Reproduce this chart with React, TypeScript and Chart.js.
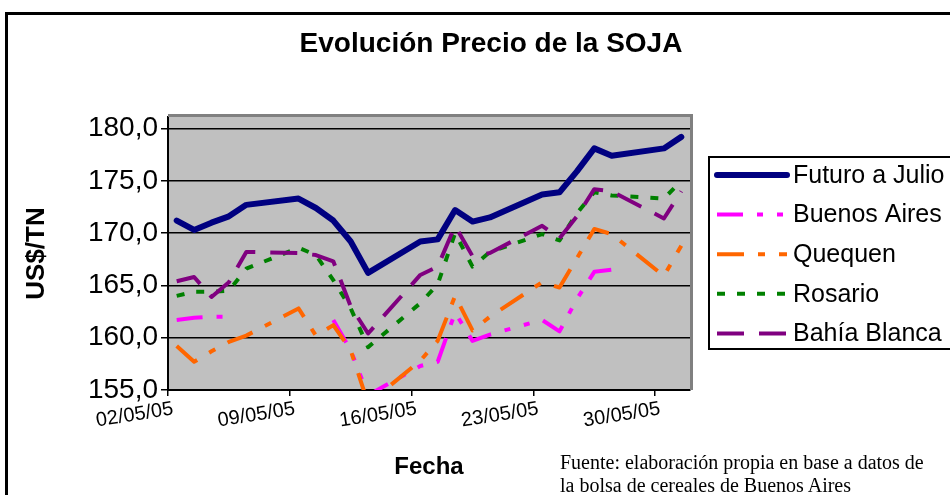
import React, { useEffect, useRef } from 'react';
import { Chart, registerables } from 'chart.js';

Chart.register(...registerables);

// ---------- data ----------
const fechas = [
  '02/05/05', '03/05/05', '04/05/05', '05/05/05', '06/05/05',
  '09/05/05', '10/05/05', '11/05/05', '12/05/05', '13/05/05',
  '16/05/05', '17/05/05', '18/05/05', '19/05/05', '20/05/05',
  '23/05/05', '24/05/05', '25/05/05', '26/05/05', '27/05/05',
  '30/05/05', '31/05/05',
];
const futuroJulio = [171.2, 170.3, 171.0, 171.6, 172.7, 173.3, 172.4, 171.2, 169.2, 166.2, 169.2, 169.4, 172.2, 171.1, 171.5, 173.7, 173.9, 175.9, 178.1, 177.4, 178.1, 179.2];
const buenosAires: (number | null)[] = [161.7, 161.9, 162.0, 162.0, null, null, null, 161.7, 158.8, 154.5, 157.3, 157.7, 162.4, 159.7, 160.3, 161.7, 160.6, 163.7, 166.3, 166.5, null, null];
const quequen = [159.2, 157.7, 158.7, 159.6, 160.2, 162.8, 160.2, 161.2, 158.8, 153.7, 157.8, 159.7, 164.0, 160.7, 162.0, 165.3, 164.8, 167.6, 170.4, 169.9, 165.9, 168.8];
const rosario = [164.0, 164.4, 164.4, 164.5, 166.6, 168.6, 167.9, 165.5, 162.8, 159.1, 163.3, 165.1, 170.0, 166.8, 168.2, 169.9, 169.3, 171.9, 173.9, 173.6, 173.3, 175.0];
const bahiaBlanca = [165.4, 165.8, 163.9, 165.3, 168.2, 168.1, 167.9, 167.3, 163.0, 160.4, 166.0, 166.8, 170.7, 167.8, 168.1, 170.7, 169.5, 171.6, 174.2, 174.0, 171.4, 174.0];

const xTickLabels = ['02/05/05', '09/05/05', '16/05/05', '23/05/05', '30/05/05'];
const xEnd = '01/06/05';
const yTicks = [155, 160, 165, 170, 175, 180];
const yMin = 155;
const yMax = 181.1;

const chartTitle = 'Evolución Precio de la SOJA';
const xTitle = 'Fecha';
const yTitle = 'US$/TN';
const fuente = ['Fuente: elaboración propia en base a datos de', 'la bolsa de cereales de Buenos Aires'];

// ---------- helpers ----------
function dayNumber(s: string) {
  const [d, m, y] = s.split('/').map(Number);
  return Date.UTC(2000 + y, m - 1, d) / 86400000;
}
const origin = dayNumber(fechas[0]);
const toX = (s: string) => dayNumber(s) - origin;
// Excel date axis "between dates": each point sits in the middle of its day
const pts = (vals: (number | null)[]) => fechas.map((f, i) => ({ x: toX(f) + 0.5, y: vals[i] }));

const FONT = '"Liberation Sans", Arial, sans-serif';

export default function App() {
  const ref = useRef<HTMLCanvasElement | null>(null);

  useEffect(() => {
    if (!ref.current) return;
    Chart.defaults.font.family = FONT;
    Chart.defaults.color = '#000';

    const decor = {
      id: 'decor',
      beforeDraw(chart: any) {
        const { ctx, chartArea: a } = chart;
        ctx.save();
        ctx.fillStyle = '#fff';
        ctx.fillRect(0, 0, chart.width, chart.height);
        ctx.strokeStyle = '#000';
        ctx.lineWidth = 3;
        ctx.strokeRect(6.5, 13.5, chart.width - 12, chart.height - 20);
        ctx.fillStyle = '#c0c0c0';
        ctx.fillRect(a.left, a.top, a.right - a.left, a.bottom - a.top);
        ctx.restore();
      },
      beforeDatasetsDraw(chart: any) {
        const { ctx, chartArea: a } = chart;
        ctx.save();
        ctx.strokeStyle = '#808080';
        ctx.lineWidth = 3;
        ctx.beginPath();
        ctx.moveTo(a.left, a.top - 1.5);
        ctx.lineTo(a.right + 1.5, a.top - 1.5);
        ctx.lineTo(a.right + 1.5, a.bottom);
        ctx.stroke();
        ctx.restore();
      },
      afterDraw(chart: any) {
        const { ctx } = chart;
        ctx.save();
        const lx = 708, ly = 156, lw = 300, lh = 194;
        ctx.fillStyle = '#fff';
        ctx.fillRect(lx, ly, lw, lh);
        ctx.strokeStyle = '#000';
        ctx.lineWidth = 2;
        ctx.strokeRect(lx + 1, ly + 1, lw, lh - 2);
        chart.data.datasets.forEach((ds: any, i: number) => {
          const y = 175 + i * 39.6;
          ctx.strokeStyle = ds.borderColor;
          ctx.lineWidth = ds.borderWidth;
          ctx.lineCap = ds.borderCapStyle || 'butt';
          ctx.setLineDash(ds.borderDash || []);
          ctx.beginPath();
          ctx.moveTo(717, y);
          ctx.lineTo(787, y);
          ctx.stroke();
          ctx.setLineDash([]);
          ctx.fillStyle = '#000';
          ctx.font = '25px ' + FONT;
          ctx.textBaseline = 'middle';
          ctx.textAlign = 'left';
          ctx.fillText(ds.label, 793, y + 1);
        });
        ctx.restore();
      },
    };

    const common = { pointRadius: 0, tension: 0, fill: false, spanGaps: false, borderJoinStyle: 'round' as const };

    const chart = new Chart(ref.current, {
      type: 'line',
      data: {
        datasets: [
          { ...common, label: 'Futuro a Julio', data: pts(futuroJulio), borderColor: '#000080', borderWidth: 6, borderCapStyle: 'round', order: 5 },
          { ...common, label: 'Buenos Aires', data: pts(buenosAires), borderColor: '#ff00ff', borderWidth: 4, borderDash: [26, 14, 6, 14, 6, 14], borderCapStyle: 'butt', order: 4 },
          { ...common, label: 'Quequen', data: pts(quequen), borderColor: '#ff6600', borderWidth: 4, borderDash: [27, 14, 7, 14], borderCapStyle: 'butt', order: 3 },
          { ...common, label: 'Rosario', data: pts(rosario), borderColor: '#008000', borderWidth: 4, borderDash: [8, 12], borderCapStyle: 'butt', order: 2 },
          { ...common, label: 'Bahía Blanca', data: pts(bahiaBlanca), borderColor: '#800080', borderWidth: 4, borderDash: [27, 15], borderCapStyle: 'butt', order: 1 },
        ] as any,
      },
      options: {
        animation: false,
        responsive: false,
        devicePixelRatio: 1,
        layout: { padding: 0 },
        events: [],
        plugins: {
          legend: { display: false },
          tooltip: { enabled: false },
          title: {
            display: true,
            text: chartTitle,
            color: '#000',
            font: { size: 28, weight: 'bold', family: FONT },
            padding: { top: 27.2, bottom: 56.2 },
          },
        },
        scales: {
          x: {
            type: 'linear',
            min: 0,
            max: toX(xEnd),
            afterBuildTicks: (s: any) => {
              s.ticks = xTickLabels.map((l) => ({ value: toX(l) }));
            },
            afterFit: (s: any) => {
              s.height = 120;
            },
            ticks: {
              autoSkip: false,
              minRotation: 9,
              maxRotation: 9,
              padding: 1,
              labelOffset: 5,
              color: '#000',
              font: { size: 20, family: FONT },
              callback: (v: any) => {
                const l = xTickLabels.find((t) => toX(t) === v);
                return l || '';
              },
            },
            grid: { drawOnChartArea: false, drawTicks: true, tickLength: 6, color: '#000', lineWidth: 1.5 },
            border: { color: '#000', width: 2 },
            title: {
              display: true,
              text: xTitle,
              color: '#000',
              font: { size: 24, weight: 'bold', family: FONT },
              padding: { top: 0, bottom: 28.6 },
            },
          },
          y: {
            type: 'linear',
            min: yMin,
            max: yMax,
            afterBuildTicks: (s: any) => {
              s.ticks = yTicks.map((v) => ({ value: v }));
            },
            afterFit: (s: any) => {
              s.width = 168;
            },
            ticks: {
              padding: 3,
              color: '#000',
              font: { size: 28, family: FONT },
              callback: (v: any) => Number(v).toFixed(1).replace('.', ','),
            },
            grid: { color: '#000', lineWidth: 1.5, tickLength: 7 },
            border: { color: '#000', width: 2 },
            title: {
              display: true,
              text: yTitle,
              color: '#000',
              font: { size: 26, weight: 'bold', family: FONT },
              padding: { top: 21.4, bottom: 0 },
            },
          },
          yR: {
            type: 'linear',
            position: 'right',
            display: true,
            grid: { display: false, drawTicks: false },
            ticks: { display: false },
            border: { display: false },
            afterFit: (s: any) => {
              s.width = 292;
            },
          },
        },
      } as any,
      plugins: [decor],
    });

    return () => chart.destroy();
  }, []);

  return (
    <div style={{ position: 'absolute', left: 0, top: 0, width: 950, height: 495, overflow: 'hidden', background: '#fff' }}>
      <canvas ref={ref} width={982} height={510} style={{ display: 'block', width: 982, height: 510 }} />
      <div
        style={{
          position: 'absolute',
          left: 560,
          top: 451,
          font: '20px "Liberation Serif", "Times New Roman", serif',
          lineHeight: '23px',
          whiteSpace: 'nowrap',
          color: '#000',
        }}
      >
        {fuente[0]}
        <br />
        {fuente[1]}
      </div>
    </div>
  );
}
